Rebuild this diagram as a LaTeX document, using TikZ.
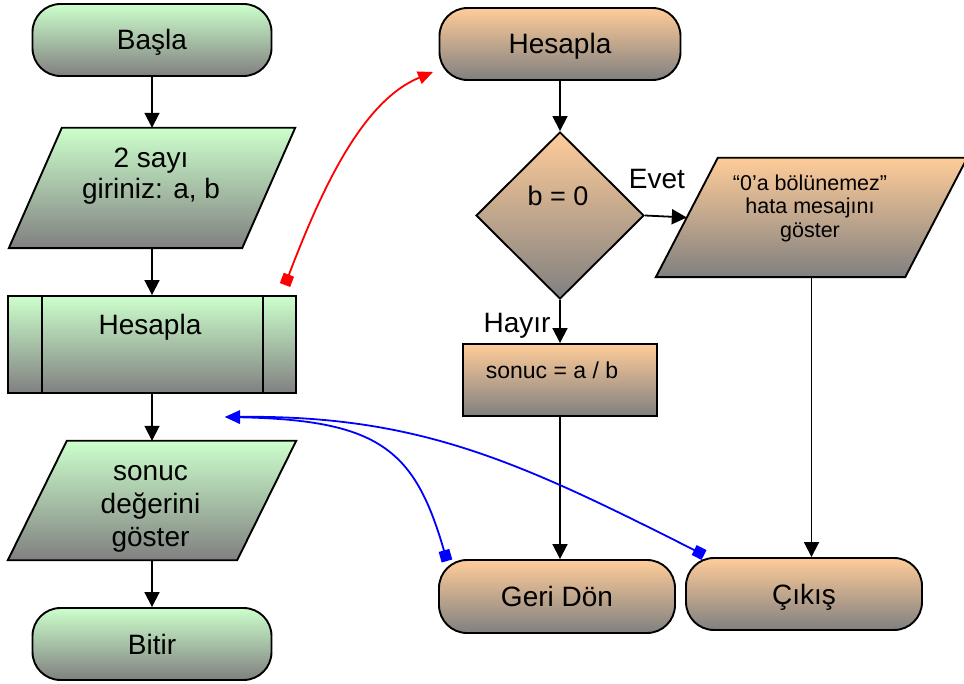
\documentclass[tikz,border=0pt]{standalone}
\usepackage{fontspec}
\setmainfont{Liberation Sans}
\usetikzlibrary{arrows.meta,shapes.geometric,calc}
\definecolor{lgreen}{HTML}{CCFFCC}
\definecolor{lorange}{HTML}{FFCC99}
\definecolor{shadegray}{HTML}{808080}

\begin{document}
\begin{tikzpicture}[x=1pt,y=-1pt,
  outline/.style={draw=black,line width=1.9pt},
  greenshade/.style={top color=lgreen,bottom color=shadegray},
  orangeshade/.style={top color=lorange,bottom color=shadegray},
  big/.style={font=\fontsize{28}{31}\selectfont},
  small/.style={font=\fontsize{21.5}{23.5}\selectfont},
  terminal/.style={outline,rounded corners=28pt,minimum width=239pt,minimum height=72pt,
    inner sep=0pt,big,text height=20pt,text depth=0pt},
  holder/.style={draw=none,inner sep=0pt},
  txt/.style={inner sep=0pt,anchor=base},
  flow/.style={line width=1.8pt,-{Triangle[length=15pt,width=15pt]}},
  link/.style={line width=1.8pt,{Square[length=11pt,width=11pt]}-{Triangle[length=15pt,width=13pt]}}
]
\useasboundingbox (0,0) rectangle (964,684);

% ---------- main program ----------
\node[terminal,greenshade] (basla) at (152,40) {Başla};

\node[holder,minimum width=286pt,minimum height=120pt] (giris) at (152,188) {};
\path[outline,greenshade] ([xshift=53pt]giris.north west) -- (giris.north east)
  -- ([xshift=-53pt]giris.south east) -- (giris.south west) -- cycle;
\node[big,align=center,inner sep=0pt] (giris-t) at (151,176.5) {2 sayı\\giriniz: a, b};

\node[outline,greenshade,minimum width=288pt,minimum height=97pt,inner sep=0pt] (sub) at (152,344.5) {};
\draw[line width=1.9pt] ([xshift=35pt]sub.north west) -- ([xshift=35pt]sub.south west);
\draw[line width=1.9pt] ([xshift=-34pt]sub.north east) -- ([xshift=-34pt]sub.south east);
\node[txt,big] (sub-t) at (150,335) {Hesapla};

\node[holder,minimum width=288pt,minimum height=119pt] (goster) at (152,500.5) {};
\path[outline,greenshade] ([xshift=59pt]goster.north west) -- (goster.north east)
  -- ([xshift=-59pt]goster.south east) -- (goster.south west) -- cycle;
\node[font=\fontsize{28}{33}\selectfont,align=center,inner sep=0pt] (goster-t) at (150.5,508.5)
  {sonuc\\değerini\\göster};

\node[terminal,greenshade] (bitir) at (152,644) {Bitir};

\draw[flow] (basla) -- (giris);
\draw[flow] (giris) -- (sub);
\draw[flow] (sub) -- (goster);
\draw[flow] (goster) -- (bitir);

% ---------- subroutine ----------
\node[terminal,orangeshade,minimum width=241pt] (hesap) at (560,44) {Hesapla};

\node[diamond,outline,orangeshade,minimum width=168pt,minimum height=167pt,inner sep=0pt] (karar) at (560,215.5) {};
\node[txt,font=\fontsize{27}{30}\selectfont] (karar-t) at (558,206) {b = 0};
\node[txt,big] (evet) at (657,189) {Evet};

\node[holder,minimum width=311pt,minimum height=119pt] (hata) at (811.5,217.5) {};
\path[outline,orangeshade] ([xshift=62pt]hata.north west) -- (hata.north east)
  -- ([xshift=-62pt]hata.south east) -- (hata.south west) -- cycle;
\coordinate (hata-in) at ($(hata.south west)!0.5!([xshift=62pt]hata.north west)$);
\node[small,align=center,inner sep=0pt] (hata-t) at (810,208)
  {“0’a bölünemez”\\hata mesajını\\göster};

\node[txt,big] (hayir) at (517,333) {Hayır};
\node[outline,orangeshade,minimum width=194pt,minimum height=72pt,inner sep=0pt] (islem) at (560,380) {};
\node[txt,font=\fontsize{23}{27}\selectfont] (islem-t) at (552,379) {sonuc = a / b};

\node[terminal,orangeshade,minimum width=236pt,minimum height=73pt] (geri) at (557,596.5) {Geri Dön};
\node[terminal,orangeshade,minimum width=236pt] (cikis) at (804,594) {Çıkış};

\draw[flow] (hesap) -- (karar);
\draw[flow] (karar.east) -- (hata-in);
\draw[flow] (karar) -- (islem);
\draw[flow] (islem.south) -- (islem.south |- geri.north);
\draw[flow] (hata.south) -- (hata.south |- cikis.north);

% ---------- call and return links ----------
\coordinate (red-from) at (285,285);
\coordinate (red-to) at (433,72);
\draw[link,red] (red-from) .. controls (325,180) and (365,100) .. (red-to);

\coordinate (blue-to) at (225,417);
\coordinate (geri-from) at (447,561);
\coordinate (cikis-from) at (704,555);
\draw[link,blue] (geri-from) .. controls (415,450) and (380,420) .. (blue-to);
\draw[link,blue] (cikis-from) .. controls (520,462) and (420,415) .. (blue-to);
\end{tikzpicture}
\end{document}
